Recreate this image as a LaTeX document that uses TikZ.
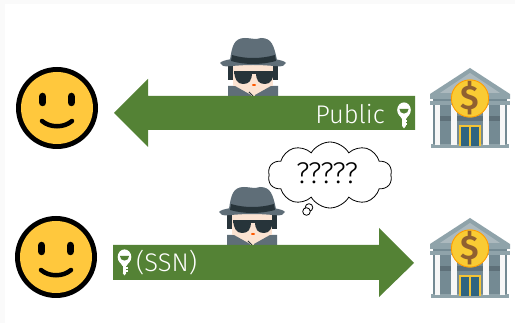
\documentclass[tikz,border=0pt]{standalone}
\usepackage{fontspec}
\setmainfont{Fira Sans Light}
\usepackage{xcolor}
\usetikzlibrary{shapes.symbols}
\definecolor{arrowgreen}{HTML}{548235}
\definecolor{smileyyellow}{HTML}{FFC83D}
\definecolor{hatgrey}{HTML}{5F6E78}
\definecolor{hatdark}{HTML}{27343A}
\definecolor{skin}{HTML}{FBE3D2}
\definecolor{roofgrey}{HTML}{8FA3AA}
\definecolor{bankgrey}{HTML}{748A93}
\definecolor{bankdark}{HTML}{5E7079}
\definecolor{coin}{HTML}{F9CB34}
\definecolor{doorblue}{HTML}{2F6480}
\tikzset{
  bigarrow/.style={fill=arrowgreen,draw=none},
  arrowtext/.style={text=white,font=\fontsize{25.5}{25.5}\selectfont,inner sep=0pt},
  smiley/.pic={
    \fill[black] (0,0) circle (41);
    \fill[smileyyellow] (0,0) circle (36);
    \draw[black,line width=7.5,line cap=round] (-14.3,-11.5) -- (-14.3,-5.5);
    \draw[black,line width=7.5,line cap=round] (14.3,-11.5) -- (14.3,-5.5);
    \draw[black,line width=4.5,line cap=round] (-15,13) .. controls (-7,20) and (7,20) .. (15,13);
  },
  spy/.pic={
    % coat, cut off by the arrow
    \fill[skin] (-20,20) rectangle (20,36);
    \fill[hatgrey] (-25,24) -- (-18,24) -- (-2,33) -- (-2,36) -- (-25,36) -- cycle;
    \fill[hatgrey] (25,24) -- (18,24) -- (2,33) -- (2,36) -- (25,36) -- cycle;
    \draw[hatdark,line width=0.8] (-4,30) -- (0,34);
    % head
    \fill[hatdark] (-25,0) rectangle (25,18);
    \fill[skin] (-20,0) rectangle (20,24);
    \fill[hatdark] (-19,10) -- (-1,10) .. controls (-1,19) and (-4,22) .. (-10,22) .. controls (-16,22) and (-18,17) .. (-19,10) -- cycle;
    \fill[hatdark] (21,10) -- (3,10) .. controls (3,19) and (6,22) .. (12,22) .. controls (18,22) and (20,17) .. (21,10) -- cycle;
    \fill[hatdark] (-19,9.5) rectangle (21,12);
    \fill[orange!70!red] (1,23) ellipse (2 and 1);
    % hat
    \fill[hatgrey] (-23,-2) .. controls (-21,-16) and (-19,-24) .. (-8,-24) .. controls (-3,-24) and (3,-22) .. (8,-24) .. controls (19,-24) and (21,-16) .. (24,-2) -- cycle;
    \fill[hatgrey] (-33,1) .. controls (-28,-6) and (28,-6) .. (33,1) .. controls (30,7) and (24,3) .. (0,3) .. controls (-24,3) and (-30,7) .. (-33,1) -- cycle;
    \fill[hatdark] (-21,-7) .. controls (-8,-3) and (8,-3) .. (22,-7) -- (23,-1) .. controls (8,3) and (-8,3) .. (-22,-1) -- cycle;
  },
  bank/.pic={
    % roof
    \fill[roofgrey] (0,-40) -- (-40,-14) -- (-40,-9) -- (40,-9) -- (40,-14) -- cycle;
    \fill[bankgrey!60!white] (0,-35) -- (-30,-15) -- (30,-15) -- cycle;
    % body
    \fill[bankgrey] (-37,-9) rectangle (37,37);
    \fill[roofgrey] (-40,-7) rectangle (40,-3);
    \fill[bankdark] (-30,8) rectangle (30,13);
    \fill[roofgrey] (-39,36) rectangle (39,40);
    % columns
    \foreach \colx in {-32.5,-16,16,32.5}
      \fill[white!94!gray] (\colx-2.8,-3) rectangle (\colx+2.8,37);
    % door
    \fill[coin!90!brown] (-11,17) rectangle (11,38);
    \fill[doorblue] (-9,19) rectangle (-1,38);
    \fill[doorblue] (1,19) rectangle (9,38);
    % coin
    \fill[coin] (0,-9.5) circle (19);
    \draw[orange!80!yellow,line width=0.8] (0,-9.5) circle (18.6);
    \node[font=\fontsize{34}{34}\selectfont\bfseries,text=brown!75!black,inner sep=0pt] at (0,-9.5) {\$};
  },
  keyicon/.pic={
    \fill[white] (0,0) ellipse (6.8 and 7.6);
    \fill[white] (-6,3) -- (6,3) -- (2,9) -- (-2,9) -- cycle;
    \fill[white] (-1.8,8) rectangle (1.8,16);
    \fill[white] (1.8,10.5) rectangle (3.4,12);
    \fill[white] (1.8,13.5) rectangle (3.4,15);
    \fill[white] (-1.8,16) -- (0,18.5) -- (1.8,16) -- cycle;
    \fill[arrowgreen] (-4.6,-1) arc[start angle=180,end angle=0,radius=4.6] -- cycle;
  },
}
\begin{document}
\begin{tikzpicture}[x=1pt,y=-1pt]
\useasboundingbox (0,0) rectangle (515,323);
\fill[black!2] (0,0) rectangle (515,323);
\fill[white] (5,4) rectangle (515,323);
\pic at (57,108) {smiley};
\pic at (56,257) {smiley};
\pic at (253,62) {spy};
\pic at (252,211) {spy};
\pic at (470,108) {bank};
\pic at (470,258) {bank};
\draw[bigarrow,fill] (415,96) -- (148,96) -- (148,79) -- (114,113) -- (148,147) -- (148,130) -- (415,130) -- cycle;
\draw[bigarrow,fill] (113,245) -- (379,245) -- (379,228) -- (414,263) -- (379,297) -- (379,280) -- (113,280) -- cycle;
\node[arrowtext,anchor=base east] (publictext) at (385,124) {Public};
\node[arrowtext,anchor=base west] (ssntext) at (136,272) {(SSN)};
\pic at (404,110) {keyicon};
\pic at (124.5,257) {keyicon};
\node[cloud,draw=black,fill=white,line width=0.8,cloud puffs=10,cloud puff arc=120,aspect=1.85,minimum width=124,minimum height=66,inner sep=0pt] (thought) at (330,175) {};
\node[font=\fontsize{30}{30}\selectfont,inner sep=0pt] (guesses) at (327,173) {?????};
\draw[black,fill=white,line width=0.8] (309,207.5) circle (3.8);
\draw[black,fill=white,line width=0.8] (306.5,211.5) circle (3.8);
\end{tikzpicture}
\end{document}
